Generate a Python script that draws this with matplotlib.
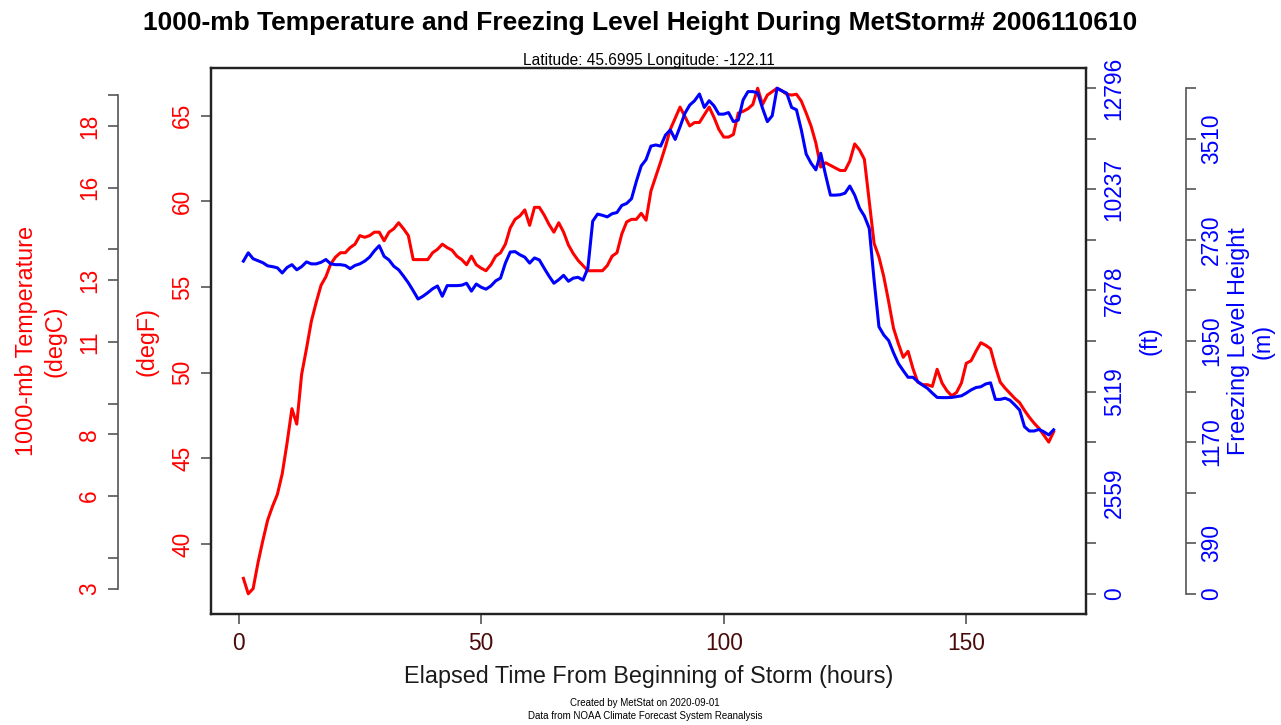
"""
Recreate the MetStat 1000-mb temperature / freezing level chart.

    python plot.py
"""

import matplotlib
matplotlib.use("Agg")
import matplotlib.pyplot as plt
import numpy as np

plt.rcParams["font.family"] = ["Liberation Sans", "DejaVu Sans"]

# ── Data (hourly) ─────────────────────────────────────────────────────────────
HOURS = np.arange(1, 169)

TEMP_F = [
    38.0, 37.1, 37.4, 38.9, 40.2, 41.4, 42.2, 42.9, 44.1, 45.9,
    47.9, 47.0, 49.9, 51.4, 53.0, 54.1, 55.1, 55.6, 56.35, 56.75,
    57.0, 57.0, 57.3, 57.5, 58.0, 57.9, 58.0, 58.2, 58.2, 57.7,
    58.2, 58.4, 58.75, 58.4, 58.0, 56.6, 56.6, 56.6, 56.6, 57.0,
    57.2, 57.5, 57.3, 57.15, 56.8, 56.6, 56.3, 56.8, 56.3, 56.1,
    55.95, 56.3, 56.8, 57.0, 57.5, 58.45, 58.95, 59.15, 59.5, 58.6,
    59.65, 59.65, 59.2, 58.65, 58.2, 58.75, 58.2, 57.45, 56.95, 56.55,
    56.25, 55.95, 55.95, 55.95, 55.95, 56.25, 56.8, 57.0, 58.1, 58.8,
    58.95, 58.95, 59.3, 58.9, 60.6, 61.45, 62.3, 63.2, 64.2, 64.85,
    65.5, 64.95, 64.4, 64.6, 64.6, 65.05, 65.5, 64.9, 64.2, 63.75,
    63.75, 63.9, 65.15, 65.25, 65.4, 65.65, 66.6, 65.65, 66.2, 66.4,
    66.6, 66.45, 66.25, 66.2, 66.25, 65.85, 65.15, 64.4, 63.4, 62.0,
    62.25, 62.1, 61.95, 61.8, 61.8, 62.35, 63.35, 63.0, 62.45, 60.0,
    57.55, 56.75, 55.6, 54.15, 52.6, 51.7, 50.9, 51.25, 50.25, 49.45,
    49.3, 49.3, 49.2, 50.2, 49.4, 48.95, 48.65, 48.85, 49.4, 50.55,
    50.7, 51.25, 51.75, 51.6, 51.4, 50.35, 49.45, 49.1, 48.8, 48.5,
    48.25, 47.8, 47.4, 47.05, 46.75, 46.35, 45.95, 46.55,
]

FREEZE_FT = [
    8420, 8630, 8480, 8430, 8380, 8300, 8280, 8250, 8120, 8260,
    8330, 8200, 8280, 8400, 8350, 8350, 8390, 8460, 8350, 8330,
    8330, 8310, 8230, 8310, 8350, 8420, 8520, 8680, 8810, 8540,
    8450, 8290, 8200, 8040, 7870, 7670, 7460, 7530, 7620, 7720,
    7790, 7530, 7800, 7800, 7800, 7810, 7860, 7660, 7840, 7760,
    7710, 7790, 7920, 7990, 8370, 8650, 8660, 8580, 8520, 8370,
    8500, 8450, 8240, 8040, 7860, 7950, 8060, 7910, 7990, 8010,
    7940, 8240, 9430, 9610, 9580, 9540, 9620, 9650, 9830, 9880,
    10000, 10440, 10830, 10990, 11330, 11360, 11330, 11610, 11740, 11500,
    11820, 12160, 12370, 12480, 12650, 12310, 12480, 12350, 12140, 12140,
    12180, 11950, 11990, 12500, 12710, 12710, 12680, 12290, 11950, 12100,
    12796, 12730, 12670, 12310, 12250, 11740, 11130, 10900, 10730, 11150,
    10600, 10090, 10090, 10100, 10140, 10320, 10090, 9760, 9560, 9250,
    7940, 6760, 6550, 6410, 6100, 5830, 5650, 5480, 5480, 5370,
    5280, 5200, 5080, 4970, 4965, 4965, 4970, 4990, 5010, 5080,
    5160, 5220, 5240, 5310, 5340, 4920, 4920, 4950, 4900, 4780,
    4650, 4230, 4120, 4120, 4160, 4100, 4020, 4150,
]

X_TICKS = [0, 50, 100, 150]
DEGF_TICKS = [40, 45, 50, 55, 60, 65]
DEGC_TICKS = [3, 4, 6, 8, 9, 11, 13, 14, 16, 18, 19]
DEGC_LABELS = ["3", "", "6", "8", "", "11", "13", "", "16", "18", ""]
FT_LABELS = ["0", "", "2559", "", "5119", "", "7678", "", "10237", "", "12796"]
M_TICKS = [0, 390, 780, 1170, 1560, 1950, 2340, 2730, 3120, 3510, 3900]
M_LABELS = ["0", "390", "", "1170", "", "1950", "", "2730", "", "3510", ""]

TITLE = "1000-mb Temperature and Freezing Level Height During MetStorm# 2006110610"
SUBTITLE = "Latitude: 45.6995 Longitude: -122.11"
# ─────────────────────────────────────────────────────────────────────────────

W, H = 1281, 725
RED, BLUE = "#FF0000", "#0000FF"
TICK_GRAY = "#555555"
BOX = "#222222"
FS = 16.4      # tick labels
LFS = 16.8     # axis titles


def px(x, y):
    """pixel position -> figure fraction"""
    return x / W, 1 - y / H


def style_ticks(a, labelcolor, pad=5):
    a.tick_params(axis="y", direction="out", length=7, width=1.2,
                  color=TICK_GRAY, labelcolor=labelcolor, labelsize=FS, pad=pad)


fig = plt.figure(figsize=(W / 100, H / 100), dpi=100)
fig.patch.set_facecolor("white")

ax = fig.add_axes([211 / W, (H - 614) / H, 875 / W, 546 / H])
ax2 = ax.twinx()

# ── Lines ─────────────────────────────────────────────────────────────────────
ax.plot(HOURS, TEMP_F, color=RED, lw=2.2, solid_joinstyle="round")
ax2.plot(HOURS, FREEZE_FT, color=BLUE, lw=2.2, solid_joinstyle="round")

# R-style 4% padding
span = HOURS[-1] - HOURS[0]
ax.set_xlim(HOURS[0] - 0.04 * span, HOURS[-1] + 0.04 * span)
t = np.array(TEMP_F)
tpad = 0.04 * (t.max() - t.min())
ax.set_ylim(t.min() - tpad, t.max() + tpad)
ft_top = max(FREEZE_FT)
ax2.set_ylim(-0.04 * ft_top, 1.04 * ft_top)

# ── Box + x axis ──────────────────────────────────────────────────────────────
for a in (ax, ax2):
    for sp in a.spines.values():
        sp.set_color(BOX)
        sp.set_linewidth(1.6)

ax.set_xticks(X_TICKS, labels=[str(v) for v in X_TICKS])
ax.tick_params(axis="x", direction="out", length=7, width=1.2, color=TICK_GRAY,
               labelcolor="#4a0a0a", labelsize=FS, pad=6)

# ── degF (left spine) ─────────────────────────────────────────────────────────
ax.set_yticks(DEGF_TICKS, labels=[str(v) for v in DEGF_TICKS],
              rotation=90, va="center")
style_ticks(ax, RED)

# ── degC (detached left axis) ─────────────────────────────────────────────────
sec_c = ax.secondary_yaxis((118 - 211) / 875,
                           functions=(lambda f: (f - 32) / 1.8,
                                      lambda c: c * 1.8 + 32))
sec_c.set_ticks(DEGC_TICKS, labels=DEGC_LABELS, rotation=90, va="center")
style_ticks(sec_c, RED)
sec_c.spines["left"].set_bounds(DEGC_TICKS[0], DEGC_TICKS[-1])
sec_c.spines["left"].set_color(TICK_GRAY)
sec_c.spines["left"].set_linewidth(1.2)

# ── ft (right spine) ──────────────────────────────────────────────────────────
ax2.set_yticks(np.linspace(0, ft_top, len(FT_LABELS)), labels=FT_LABELS,
               rotation=90, va="center")
style_ticks(ax2, BLUE)

# ── m (detached right axis) ───────────────────────────────────────────────────
sec_m = ax2.secondary_yaxis((1186 - 211) / 875,
                            functions=(lambda ft: ft * 0.3048,
                                       lambda m: m / 0.3048))
sec_m.set_ticks(M_TICKS, labels=M_LABELS, rotation=90, va="center")
style_ticks(sec_m, BLUE, pad=3)
sec_m.spines["right"].set_bounds(M_TICKS[0], M_TICKS[-1])
sec_m.spines["right"].set_color(TICK_GRAY)
sec_m.spines["right"].set_linewidth(1.2)

# ── Axis titles ───────────────────────────────────────────────────────────────
fig.text(*px(26, 341), "1000-mb Temperature", color=RED, fontsize=LFS,
         rotation=90, ha="center", va="center")
fig.text(*px(55, 341), "(degC)", color=RED, fontsize=LFS,
         rotation=90, ha="center", va="center")
fig.text(*px(147, 341), "(degF)", color=RED, fontsize=LFS,
         rotation=90, ha="center", va="center")
fig.text(*px(1150, 341), "(ft)", color=BLUE, fontsize=LFS,
         rotation=90, ha="center", va="center")
fig.text(*px(1238, 341), "Freezing Level Height", color=BLUE, fontsize=LFS,
         rotation=90, ha="center", va="center")
fig.text(*px(1263, 341), "(m)", color=BLUE, fontsize=LFS,
         rotation=90, ha="center", va="center")

fig.text(*px(649, 677), "Elapsed Time From Beginning of Storm (hours)",
         color="#1a1a1a", fontsize=LFS, ha="center", va="center")

# ── Titles + footer ───────────────────────────────────────────────────────────
fig.text(*px(640, 23), TITLE, fontsize=19, fontweight="bold",
         ha="center", va="center", color="black")
fig.text(*px(649, 60), SUBTITLE, fontsize=11.2, ha="center", va="center",
         color="black")
fig.text(*px(645, 703), "Created by MetStat on 2020-09-01", fontsize=7,
         ha="center", va="center", color="black")
fig.text(*px(645, 716), "Data from NOAA Climate Forecast System Reanalysis",
         fontsize=7, ha="center", va="center", color="black")

fig.savefig("out.png", dpi=100, facecolor=fig.get_facecolor())
plt.close(fig)
